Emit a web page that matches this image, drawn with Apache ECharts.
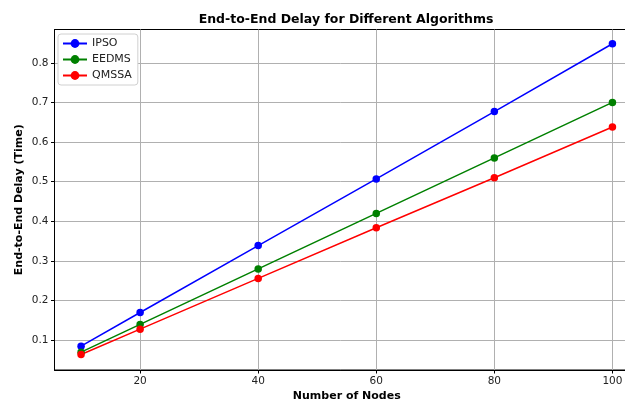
<!DOCTYPE html>
<html>
<head>
<meta charset="utf-8">
<script src="https://cdn.jsdelivr.net/npm/echarts@6/dist/echarts.min.js"></script>
<style>
html,body{margin:0;padding:0;background:#fff;}
#chart{width:625px;height:403px;}
</style>
</head>
<body>
<div id="chart"></div>
<script>
const nodes = [10, 20, 40, 60, 80, 100];
const ipso = [0.085, 0.17, 0.339, 0.507, 0.677, 0.848];
const eedms = [0.07, 0.14, 0.28, 0.42, 0.56, 0.70];
const qmssa = [0.064, 0.128, 0.256, 0.384, 0.51, 0.638];
const xTicks = [20, 40, 60, 80, 100];
const yTicks = [0.1, 0.2, 0.3, 0.4, 0.5, 0.6, 0.7, 0.8];

const FONT = 'DejaVu Sans';
function pairs(vals){ return nodes.map((n,i)=>[n, vals[i]]); }
function mkSeries(name, vals, color){
  return {
    name: name, type: 'line', data: pairs(vals),
    symbol: 'circle', symbolSize: 7.5,
    lineStyle: {color: color, width: 1.5},
    itemStyle: {color: color},
    emphasis: {disabled: true},
    animation: false
  };
}
const chart = echarts.init(document.getElementById('chart'), null, {renderer: 'canvas'});
chart.setOption({
  animation: false,
  backgroundColor: '#ffffff',
  title: {
    text: 'End-to-End Delay for Different Algorithms',
    left: 341, top: 8, textAlign: 'center',
    textStyle: {fontFamily: FONT, fontSize: 12.5, fontWeight: 'bold', color: '#000'}
  },
  legend: {
    orient: 'vertical', left: 58, top: 34,
    padding: [4, 6, 4, 4],
    itemGap: 5, itemWidth: 24, itemHeight: 11,
    borderColor: '#d0d0d0', borderWidth: 1, borderRadius: 3,
    backgroundColor: '#ffffff',
    textStyle: {fontFamily: FONT, fontSize: 11, color: '#222'},
    data: ['IPSO', 'EEDMS', 'QMSSA']
  },
  grid: {left: 54.5, right: -14, top: 29.5, bottom: 33, containLabel: false, outerBoundsMode: 'none',
    show: true, borderColor: '#000', borderWidth: 1, backgroundColor: 'transparent'},
  xAxis: {
    type: 'value', min: 5.5, max: 104.5,
    name: 'Number of Nodes', nameLocation: 'middle', nameGap: 21, nameMoveOverlap: false,
    nameTextStyle: {fontFamily: FONT, fontSize: 11, fontWeight: 'bold', color: '#000'},
    axisLine: {show: true, onZero: false, lineStyle: {color: '#000', width: 1}},
    axisTick: {show: true, length: 3.5, customValues: xTicks, lineStyle: {color: '#000'}},
    axisLabel: {customValues: xTicks, fontFamily: FONT, fontSize: 10.5, color: '#222', margin: 6},
    splitLine: {show: true, lineStyle: {color: '#b0b0b0', width: 1}}
  },
  yAxis: {
    type: 'value', min: 0.025, max: 0.884,
    name: 'End-to-End Delay (Time)', nameLocation: 'middle', nameGap: 30, nameRotate: 90,
    nameMoveOverlap: false,
    nameTextStyle: {fontFamily: FONT, fontSize: 11, fontWeight: 'bold', color: '#000'},
    axisLine: {show: true, onZero: false, lineStyle: {color: '#000', width: 1}},
    axisTick: {show: true, length: 3.5, customValues: yTicks, lineStyle: {color: '#000'}},
    axisLabel: {customValues: yTicks, fontFamily: FONT, fontSize: 10.5, color: '#222', margin: 6,
      formatter: v => v.toFixed(1)},
    splitLine: {show: true, lineStyle: {color: '#b0b0b0', width: 1}}
  },
  series: [
    mkSeries('IPSO', ipso, '#0000ff'),
    mkSeries('EEDMS', eedms, '#008000'),
    mkSeries('QMSSA', qmssa, '#ff0000')
  ]
});
</script>
</body>
</html>
